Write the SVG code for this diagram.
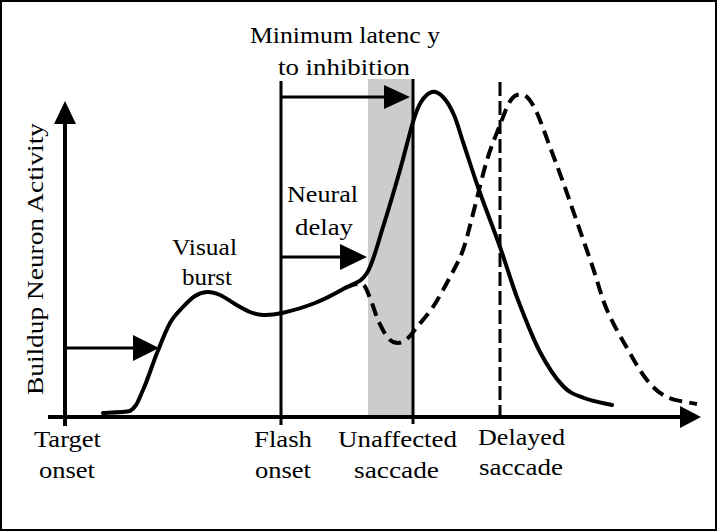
<svg xmlns="http://www.w3.org/2000/svg" width="717" height="531" viewBox="0 0 717 531">
<style>
.ax{stroke:#000;stroke-width:4;fill:none}
.vl{stroke:#000;stroke-width:3;fill:none}
.cv{stroke:#000;stroke-width:4;fill:none;stroke-linecap:round;stroke-linejoin:round}
.ds{stroke-dasharray:13 7;stroke-linecap:butt}
.ar{stroke:#000;stroke-width:3;fill:none}
.hd{fill:#000;stroke:none}
</style>
<rect x="1" y="1" width="715" height="529" fill="#fff" stroke="#000" stroke-width="2"/>
<g id="inhibition-window">
<rect x="368" y="79" width="45" height="338" fill="#cccccc"/>
</g>
<g font-family="Liberation Serif, Times New Roman, Times, serif" font-size="23" fill="#000">
<g id="axes">
<line class="ax" x1="65" y1="120" x2="65" y2="426"/>
<polygon class="hd" points="65,101 54,124 76,124"/>
<line class="ax" x1="48" y1="417" x2="684" y2="417"/>
<polygon class="hd" points="701,417 680,406 680,428"/>
<text transform="translate(43,395) rotate(-90)" textLength="272" lengthAdjust="spacingAndGlyphs">Buildup Neuron Activity</text>
</g>
<g id="markers">
<line class="vl" x1="281" y1="81" x2="281" y2="425"/>
<line class="vl" x1="413" y1="79" x2="413" y2="424"/>
<line class="vl" x1="500" y1="82" x2="500" y2="422" stroke-dasharray="14 5" stroke-width="3.5"/>
</g>
<g id="curves">
<path class="cv ds" d="M345,288 C347.5,287.2 357.8,282.3 362,284 C366.2,285.7 367.3,292 370,298 C372.7,304 375,313.3 378,320 C381,326.7 384.7,334.2 388,338 C391.3,341.8 394.7,343 398,343 C401.3,343 404.8,340.7 408,338 C411.2,335.3 412.8,332.2 417,327 C421.2,321.8 427.5,315.3 433,307 C438.5,298.7 445,286.5 450,277 C455,267.5 459,261.2 463,250 C467,238.8 470,225 474,210 C478,195 482.7,174.2 487,160 C491.3,145.8 496.3,134.5 500,125 C503.7,115.5 506.2,108 509,103 C511.8,98 514,96 517,95 C520,94 523.7,94 527,97 C530.3,100 533.2,104.7 537,113 C540.8,121.3 545.7,135.5 550,147 C554.3,158.5 558.5,169.5 563,182 C567.5,194.5 572,207.7 577,222 C582,236.3 588,253.3 593,268 C598,282.7 601.3,296.7 607,310 C612.7,323.3 620.3,336.3 627,348 C633.7,359.7 640.3,371.8 647,380 C653.7,388.2 658.7,393 667,397 C675.3,401 692,402.8 697,404"/>
<path class="cv" d="M103,413 C107.5,412.7 124,412.5 130,411 C136.7,407.2 138.5,399.7 143,390 C147.5,380.3 152.5,364.2 157,353 C161.5,341.8 165.7,330.7 170,323 C174.3,315.3 178.8,311.5 183,307 C187.2,302.5 191,298.5 195,296 C199,293.5 202.8,292.2 207,292 C211.2,291.8 215.3,293 220,295 C224.7,297 230,301.2 235,304 C240,306.8 245.3,310.2 250,312 C254.7,313.8 257.7,314.8 263,315 C268.3,315.2 273.3,315 282,313 C290.7,311 304.5,307.2 315,303 C325.5,298.8 336.3,293 345,288 C353.7,283 360.7,283.2 367,273 C373.3,262.8 377.5,244.2 383,227 C388.5,209.8 395,187.5 400,170 C405,152.5 409.5,133.3 413,122 C416.5,110.7 417.8,107 421,102 C424.2,97 428.3,92.8 432,92 C435.7,91.2 439.3,93.2 443,97 C446.7,100.8 450.5,107 454,115 C457.5,123 459.8,132.5 464,145 C468.2,157.5 473,173 479,190 C485,207 493.5,228.7 500,247 C506.5,265.3 511.3,282.5 518,300 C524.7,317.5 532.5,337.7 540,352 C547.5,366.3 555.7,378.3 563,386 C570.3,393.7 575.8,394.8 584,398 C592.2,401.2 607.3,403.8 612,405"/>
</g>
<g id="connectors">
<line class="ar" x1="66" y1="348" x2="136" y2="348"/>
<polygon class="hd" points="159,348 133,335 133,361"/>
<line class="ar" x1="282" y1="257" x2="343" y2="257"/>
<polygon class="hd" points="367,257 340,244 340,270"/>
<line class="ar" x1="282" y1="97" x2="387" y2="97"/>
<polygon class="hd" points="410,97 384,85 384,109"/>
</g>
<g id="label-min-latency">
<text x="250" y="43" textLength="190" lengthAdjust="spacingAndGlyphs">Minimum latenc y</text>
<text x="278" y="75" textLength="132" lengthAdjust="spacingAndGlyphs">to inhibition</text>
</g>
<g id="label-visual-burst">
<text x="172" y="255" textLength="65" lengthAdjust="spacingAndGlyphs">Visual</text>
<text x="182" y="285" textLength="50" lengthAdjust="spacingAndGlyphs">burst</text>
</g>
<g id="label-neural-delay">
<text x="287" y="202" textLength="71" lengthAdjust="spacingAndGlyphs">Neural</text>
<text x="295" y="235" textLength="58" lengthAdjust="spacingAndGlyphs">delay</text>
</g>
<g id="label-target-onset">
<text x="34" y="447" textLength="67" lengthAdjust="spacingAndGlyphs">Target</text>
<text x="39" y="478" textLength="56" lengthAdjust="spacingAndGlyphs">onset</text>
</g>
<g id="label-flash-onset">
<text x="254" y="447" textLength="58" lengthAdjust="spacingAndGlyphs">Flash</text>
<text x="255" y="478" textLength="56" lengthAdjust="spacingAndGlyphs">onset</text>
</g>
<g id="label-unaffected">
<text x="338" y="447" textLength="119" lengthAdjust="spacingAndGlyphs">Unaffected</text>
<text x="354" y="478" textLength="85" lengthAdjust="spacingAndGlyphs">saccade</text>
</g>
<g id="label-delayed">
<text x="478" y="445" textLength="87" lengthAdjust="spacingAndGlyphs">Delayed</text>
<text x="479" y="475" textLength="84" lengthAdjust="spacingAndGlyphs">saccade</text>
</g>
</g>
</svg>
